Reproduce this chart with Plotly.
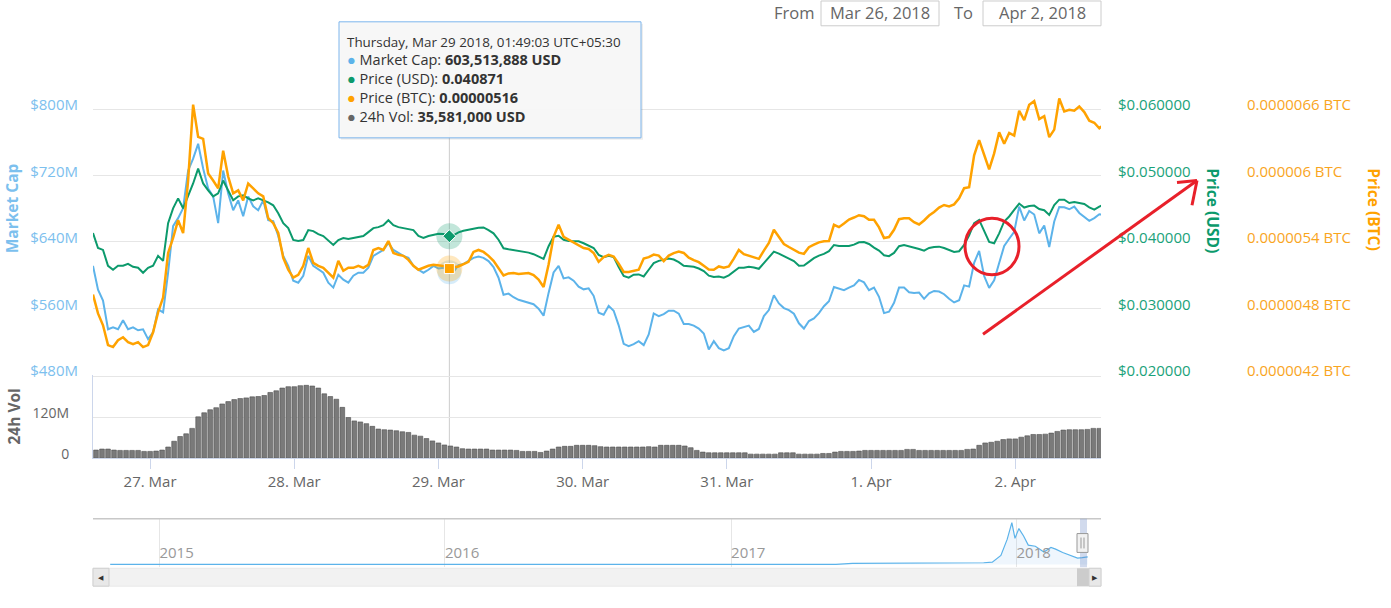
import plotly.graph_objects as go
import pandas as pd

# ---- data ----
# main series sampled every 50 min starting at the left edge of the chart
series_start = "2018-03-26 14:30"
series_step = "50min"

market_cap_musd = [
    611.3, 582.7, 569.6, 534.9, 537.3, 534.9, 545.7, 534.9, 537.3, 533.7,
    534.9, 523.0, 531.3, 558.8, 555.2, 603.0, 659.1, 668.7, 680.6, 726.0,
    740.3, 758.2, 728.4, 704.5, 694.9, 662.7, 726.0, 698.5, 678.2, 690.1,
    671.0, 694.9, 683.0, 678.2, 690.1, 666.3, 665.1, 647.2, 623.3, 611.3,
    593.4, 591.0, 599.4, 623.3, 611.3, 606.6, 603.0, 591.0, 585.1, 600.6,
    594.6, 591.0, 599.4, 603.0, 603.0, 609.0, 623.3, 626.9, 630.4, 638.8,
    630.4, 626.9, 623.3, 620.9, 611.3, 606.6, 603.0, 606.6, 611.3,
    608.1, 609.0, 605.0, 604.0, 612.2, 613.4, 617.3, 620.9, 622.4, 620.9,
    617.0, 609.8, 597.0, 576.4, 577.9, 573.5, 570.4, 568.4, 566.8, 565.1,
    559.6, 551.3, 578.7, 603.3, 611.3, 596.2, 597.4, 593.4, 586.3, 583.0,
    584.2, 575.2, 554.9, 552.5, 563.2, 557.3, 539.7, 517.4, 514.6, 517.0,
    520.6, 515.8, 528.6, 554.0, 550.8, 553.2, 557.3, 557.3, 553.7, 541.3,
    541.3, 539.3, 535.8, 529.8, 510.7, 520.6, 512.2, 509.5, 512.2, 526.6,
    535.8, 537.7, 539.3, 531.7, 535.3,
    550.8, 558.0, 575.9, 566.0, 560.4, 558.0, 553.7, 542.1, 535.8, 544.8,
    548.1, 554.4, 562.7, 568.7, 585.9, 584.2, 581.9, 585.1, 587.8, 594.3,
    591.4, 581.9, 585.1, 574.0, 554.4, 556.1, 566.8, 585.1, 585.1, 579.5,
    578.7, 579.1, 571.6, 578.3, 581.1, 580.3, 577.1, 571.6, 567.2, 569.9,
    587.8, 586.3, 614.9, 629.3, 599.0, 584.7, 593.8, 614.6, 635.2, 643.9,
    652.3, 682.6, 665.9, 677.4, 673.1, 650.4, 659.9, 634.0, 664.7, 682.1,
    681.8, 679.4, 682.6, 675.0, 670.7, 665.4, 668.7, 673.4, 672.6,
]

price_usd = [
    0.04134, 0.03910, 0.03881, 0.03642, 0.03582, 0.03642, 0.03642, 0.03672, 0.03627, 0.03612,
    0.03537, 0.03612, 0.03642, 0.03791, 0.03716, 0.04284, 0.04507, 0.04657, 0.04507, 0.04687,
    0.04881, 0.05104, 0.04881, 0.04776, 0.04687, 0.04731, 0.04925, 0.04776, 0.04627, 0.04687,
    0.04701, 0.04657, 0.04627, 0.04657, 0.04627, 0.04597, 0.04552, 0.04433, 0.04284, 0.04209,
    0.04030, 0.04015, 0.04030, 0.04179, 0.04164, 0.04119, 0.04090, 0.04015, 0.03955, 0.04030,
    0.04060, 0.04045, 0.04060, 0.04075, 0.04090, 0.04149, 0.04209, 0.04224, 0.04254, 0.04328,
    0.04254, 0.04224, 0.04209, 0.04194, 0.04179, 0.04090, 0.04060, 0.04090, 0.04104,
    0.04124, 0.04119, 0.04079, 0.04100, 0.04145, 0.04169, 0.04179, 0.04198, 0.04213, 0.04219,
    0.04179, 0.04130, 0.04034, 0.03906, 0.03891, 0.03881, 0.03866, 0.03855, 0.03840, 0.03816,
    0.03776, 0.03746, 0.03936, 0.04079, 0.04094, 0.04034, 0.04015, 0.04010, 0.04010, 0.03981,
    0.03951, 0.03910, 0.03806, 0.03772, 0.03791, 0.03772, 0.03622, 0.03488, 0.03463, 0.03507,
    0.03512, 0.03482, 0.03582, 0.03682, 0.03716, 0.03736, 0.03751, 0.03736, 0.03697, 0.03642,
    0.03637, 0.03627, 0.03601, 0.03563, 0.03493, 0.03473, 0.03482, 0.03463, 0.03497, 0.03557,
    0.03612, 0.03612, 0.03627, 0.03616, 0.03597,
    0.03682, 0.03761, 0.03855, 0.03825, 0.03791, 0.03751, 0.03712, 0.03642, 0.03646, 0.03701,
    0.03757, 0.03795, 0.03821, 0.03861, 0.03955, 0.03940, 0.03936, 0.03940, 0.03960, 0.03995,
    0.04000, 0.03970, 0.03915, 0.03870, 0.03801, 0.03787, 0.03836, 0.03936, 0.03955, 0.03936,
    0.03921, 0.03895, 0.03870, 0.03910, 0.03925, 0.03930, 0.03910, 0.03876, 0.03851, 0.03861,
    0.03955, 0.04100, 0.04284, 0.04333, 0.04160, 0.04000, 0.03981, 0.04130, 0.04309, 0.04384,
    0.04482, 0.04578, 0.04518, 0.04542, 0.04548, 0.04497, 0.04478, 0.04407, 0.04557, 0.04637,
    0.04637, 0.04587, 0.04601, 0.04592, 0.04572, 0.04522, 0.04488, 0.04533, 0.04567,
]

# price in micro-BTC (1e-6 BTC)
price_ubtc = [
    4.925, 4.755, 4.648, 4.469, 4.451, 4.513, 4.540, 4.496, 4.478, 4.496,
    4.451, 4.469, 4.585, 4.764, 4.898, 5.301, 5.436, 5.597, 5.481, 5.955,
    6.640, 6.349, 6.331, 6.018, 5.955, 5.884, 6.224, 5.991, 5.839, 5.866,
    5.776, 5.928, 5.884, 5.839, 5.812, 5.615, 5.570, 5.481, 5.257, 5.149,
    5.078, 5.104, 5.185, 5.346, 5.212, 5.185, 5.167, 5.122, 5.078, 5.230,
    5.140, 5.167, 5.167, 5.185, 5.167, 5.194, 5.328, 5.346, 5.328, 5.409,
    5.301, 5.284, 5.275, 5.239, 5.185, 5.149, 5.167, 5.185, 5.194,
    5.188, 5.185, 5.173, 5.173, 5.179, 5.203, 5.221, 5.310, 5.328, 5.310,
    5.275, 5.230, 5.158, 5.098, 5.116, 5.120, 5.111, 5.113, 5.120, 5.102,
    5.060, 4.994, 5.197, 5.447, 5.555, 5.447, 5.421, 5.394, 5.370, 5.346,
    5.337, 5.301, 5.221, 5.263, 5.284, 5.268, 5.203, 5.129, 5.129, 5.138,
    5.149, 5.250, 5.263, 5.286, 5.277, 5.227, 5.277, 5.299, 5.313, 5.301,
    5.259, 5.236, 5.218, 5.185, 5.152, 5.149, 5.179, 5.167, 5.179, 5.250,
    5.328, 5.290, 5.275, 5.263, 5.248,
    5.322, 5.391, 5.510, 5.447, 5.382, 5.355, 5.331, 5.304, 5.293, 5.353,
    5.376, 5.397, 5.406, 5.409, 5.555, 5.534, 5.567, 5.603, 5.621, 5.642,
    5.633, 5.600, 5.600, 5.532, 5.436, 5.445, 5.510, 5.606, 5.615, 5.615,
    5.579, 5.558, 5.594, 5.639, 5.671, 5.711, 5.734, 5.722, 5.740, 5.794,
    5.886, 5.895, 6.182, 6.320, 6.188, 6.056, 6.200, 6.391, 6.287, 6.385,
    6.361, 6.585, 6.501, 6.639, 6.672, 6.510, 6.537, 6.347, 6.415, 6.696,
    6.579, 6.594, 6.585, 6.624, 6.573, 6.495, 6.477, 6.427, 6.466,
]

# 24h volume, hourly bars, in millions USD
volume_start = "2018-03-26 15:00"
volume_musd = [
    24, 27, 27, 24, 23, 23, 23, 23, 20, 20,
    21, 24, 33, 50, 64, 72, 88, 122, 134, 143,
    149, 160, 167, 173, 176, 178, 181, 182, 185, 194,
    199, 207, 211, 211, 214, 215, 213, 207, 190, 182,
    174, 150, 120, 110, 107, 102, 94, 86, 84, 83,
    81, 78, 76, 68, 65, 58, 51, 45, 39, 36,
    33, 28, 27, 27, 27, 27, 24, 24, 24, 24,
    23, 20, 20, 20, 17, 21, 27, 33, 35, 35,
    38, 38, 38, 37, 34, 33, 33, 33, 33, 33,
    33, 33, 34, 33, 38, 38, 38, 38, 36, 31,
    23, 18, 16, 16, 16, 16, 16, 16, 16, 12,
    12, 12, 12, 12, 16, 16, 16, 12, 12, 12,
    12, 14, 14, 18, 20, 20, 20, 21, 23, 23,
    23, 23, 23, 23, 23, 26, 26, 23, 23, 23,
    23, 23, 23, 23, 23, 26, 27, 38, 45, 47,
    50, 55, 57, 57, 62, 66, 70, 70, 71, 74,
    79, 83, 84, 84, 84, 85, 88, 88,
]

# navigator: all-time market cap, billions USD
nav_dates = [
    "2014-10-30", "2015-06-01", "2016-01-01", "2016-07-01", "2017-01-01",
    "2017-05-15", "2017-06-05", "2017-09-01", "2017-10-20", "2017-11-20",
    "2017-12-01", "2017-12-12", "2017-12-20", "2017-12-26", "2017-12-30",
    "2018-01-04", "2018-01-10", "2018-01-16", "2018-01-25", "2018-02-05",
    "2018-02-14", "2018-02-20", "2018-03-01", "2018-03-10", "2018-03-20",
    "2018-03-26", "2018-04-02",
]
nav_mcap_busd = [
    0.008, 0.006, 0.005, 0.006, 0.008,
    0.012, 0.09, 0.10, 0.12, 0.15,
    0.20, 0.80, 2.20, 3.67, 2.30,
    3.15, 2.50, 1.70, 1.60, 1.10,
    1.50, 1.35, 1.05, 0.82, 0.56,
    0.60, 0.67,
]

# hovered point shown in the tooltip
tip_time = "2018-03-29 01:49:03"
tip_label = "Thursday, Mar 29 2018, 01:49:03 UTC+05:30"
tip_mcap = 603513888
tip_usd = 0.040871
tip_btc = 0.00000516
tip_vol = 35581000

mc_ticks = [480, 560, 640, 720, 800, 880]
mc_labels = ["$480M", "$560M", "$640M", "$720M", "$800M", ""]
usd_ticks = [0.02, 0.03, 0.04, 0.05, 0.06, 0.07]
usd_labels = ["$0.020000", "$0.030000", "$0.040000", "$0.050000", "$0.060000", ""]
btc_ticks = [4.2, 4.8, 5.4, 6.0, 6.6, 7.2]
btc_labels = ["0.0000042 BTC", "0.0000048 BTC", "0.0000054 BTC",
              "0.000006 BTC", "0.0000066 BTC", ""]
vol_ticks = [0, 120, 240]
vol_labels = ["0", "120M", ""]

C_MC = "#5cb3ea"
C_USD = "#0c9a6c"
C_BTC = "#ffa200"
C_VOL = "#7a7a7a"
C_GRID = "#e6e6e6"
FONT = "Open Sans"

W, H = 1391, 608


def px(x):
    return x / W


def py(y):
    return 1 - y / H


times = pd.date_range(series_start, periods=len(market_cap_musd), freq=series_step)
vol_times = pd.date_range(volume_start, periods=len(volume_musd), freq="h")

fig = go.Figure()

fig.add_trace(go.Bar(x=vol_times, y=volume_musd, yaxis="y4", width=3600000 * 0.78,
                     marker=dict(color=C_VOL, line=dict(color="#4f4f4f", width=0.6))))
fig.add_trace(go.Scatter(x=times, y=market_cap_musd, yaxis="y", mode="lines",
                         line=dict(color=C_MC, width=2)))
fig.add_trace(go.Scatter(x=times, y=price_usd, yaxis="y2", mode="lines",
                         line=dict(color=C_USD, width=2)))
fig.add_trace(go.Scatter(x=times, y=price_ubtc, yaxis="y3", mode="lines",
                         line=dict(color=C_BTC, width=2.5)))

# hover halos + markers
fig.add_trace(go.Scatter(x=[tip_time], y=[tip_mcap / 1e6], yaxis="y", mode="markers",
                         marker=dict(size=24, color=C_MC, opacity=0.25)))
fig.add_trace(go.Scatter(x=[tip_time], y=[tip_usd], yaxis="y2", mode="markers",
                         marker=dict(size=26, color=C_USD, opacity=0.25)))
fig.add_trace(go.Scatter(x=[tip_time], y=[tip_usd], yaxis="y2", mode="markers",
                         marker=dict(size=10, symbol="diamond", color=C_USD,
                                     line=dict(color="white", width=1))))
fig.add_trace(go.Scatter(x=[tip_time], y=[tip_btc * 1e6], yaxis="y3", mode="markers",
                         marker=dict(size=26, color=C_BTC, opacity=0.25)))
fig.add_trace(go.Scatter(x=[tip_time], y=[tip_btc * 1e6], yaxis="y3", mode="markers",
                         marker=dict(size=10, symbol="square", color=C_BTC,
                                     line=dict(color="white", width=1))))

# navigator
fig.add_trace(go.Scatter(x=nav_dates, y=nav_mcap_busd, xaxis="x2", yaxis="y5", mode="lines",
                         fill="tozeroy", fillcolor="rgba(124,181,236,0.12)",
                         line=dict(color=C_MC, width=1.2)))

tick_font = dict(family=FONT, size=15)

fig.update_layout(
    width=W, height=H,
    margin=dict(l=0, r=0, t=0, b=0),
    paper_bgcolor="white", plot_bgcolor="white",
    showlegend=False,
    font=dict(family=FONT, color="#333"),
    xaxis=dict(domain=[px(93), px(1101)], anchor="y4", type="date",
               range=["2018-03-26 14:30", "2018-04-02 14:17"],
               showgrid=False, zeroline=False, showline=True, linecolor="#ccd6eb",
               ticks="outside", ticklen=10, tickcolor="#ccd6eb",
               tick0="2018-03-27", dtick=86400000, tickformat="%-d. %b",
               tickfont=dict(tick_font, color="#666")),
    yaxis=dict(domain=[py(378), py(43)], anchor="x", range=[480, 880],
               tickvals=mc_ticks, ticktext=mc_labels, gridcolor=C_GRID,
               zeroline=False, ticklabelstandoff=14, ticklabelshift=-4,
               tickfont=dict(tick_font, color="#7cc0ee")),
    yaxis2=dict(overlaying="y", side="right", anchor="x", range=[0.02, 0.07],
                tickvals=usd_ticks, ticktext=usd_labels, showgrid=False, zeroline=False,
                ticklabelstandoff=16, ticklabelshift=-4,
                tickfont=dict(tick_font, color="#1aa27a")),
    yaxis3=dict(overlaying="y", side="right", anchor="free", position=px(1234),
                range=[4.2, 7.2], tickvals=btc_ticks, ticktext=btc_labels,
                showgrid=False, zeroline=False, ticklabelstandoff=12, ticklabelshift=-4,
                tickfont=dict(tick_font, color="#f9a51e")),
    yaxis4=dict(domain=[py(462), py(378)], anchor="x", range=[0, 245.85],
                tickvals=vol_ticks, ticktext=vol_labels, gridcolor=C_GRID,
                zeroline=False, showline=True, linecolor="#ccd6eb",
                ticklabelstandoff=20, ticklabelshift=-4,
                tickfont=dict(family=FONT, size=14, color="#666")),
    xaxis2=dict(domain=[px(93), px(1101)], anchor="y5", type="date",
                range=["2014-10-08", "2018-04-19"], tick0="2015-01-01", dtick="M12",
                tickformat="%Y", showgrid=True, gridcolor=C_GRID, zeroline=False,
                ticklabelposition="inside right", ticks="",
                tickfont=dict(tick_font, color="#999")),
    yaxis5=dict(domain=[py(572), py(523)], anchor="x2", range=[-0.25, 4.02],
                visible=False),
)

shapes = []
annotations = []


def note(x, y, text, size, color, xanchor="center", angle=0):
    annotations.append(dict(x=px(x), y=py(y), xref="paper", yref="paper", text=text,
                            xanchor=xanchor, yanchor="middle", textangle=angle, borderpad=0,
                            showarrow=False, font=dict(family=FONT, size=size, color=color)))


def box(x0, y0, x1, y1, fill, line_color=None, width=1):
    line = dict(color=line_color, width=width) if line_color else dict(width=0)
    shapes.append(dict(type="rect", xref="paper", yref="paper", x0=px(x0), x1=px(x1),
                       y0=py(y1), y1=py(y0), fillcolor=fill, line=line))


def seg(x0, y0, x1, y1, color, width=1):
    shapes.append(dict(type="line", xref="paper", yref="paper", x0=px(x0), x1=px(x1),
                       y0=py(y0), y1=py(y1), line=dict(color=color, width=width)))


# crosshair
shapes.append(dict(type="line", xref="x", yref="paper", x0=tip_time, x1=tip_time,
                   y0=py(462), y1=py(43), line=dict(color="#cccccc", width=1), layer="below"))

# navigator frame, selection and scrollbar
seg(93, 523, 1101, 523, "#c8c8c8", 1.5)
box(1080, 523, 1087, 572, "rgba(102,133,194,0.3)")
box(93, 573, 1101, 591, "#f2f2f2", "#e8e8e8")
box(93, 573, 109, 591, "#e8e8e8", "#d0d0d0")
box(1077, 573, 1089, 591, "#cccccc")
box(1089, 573, 1101, 591, "#e8e8e8", "#d0d0d0")
box(1077, 538, 1088, 557, "#f2f2f2", "#999999")
seg(1081, 542, 1081, 553, "#999999")
seg(1084, 542, 1084, 553, "#999999")
note(101, 582, "◀", 7, "#333")
note(1095, 582, "▶", 7, "#333")

# tooltip
box(341, 24, 643, 141, "rgba(0,0,0,0.07)")
box(339, 22, 641, 139, "rgba(248,248,248,0.95)", "#7cb5ec")
note(346, 42, tip_label, 13.4, "#333", xanchor="left")
tip_rows = [
    (C_MC, "Market Cap", f"{tip_mcap:,} USD", 60),
    (C_USD, "Price (USD)", f"{tip_usd:.6f}", 79),
    (C_BTC, "Price (BTC)", f"{tip_btc:.8f}", 98),
    ("#666666", "24h Vol", f"{tip_vol:,} USD", 117),
]
for color, name, value, ypix in tip_rows:
    note(346, ypix, f"<span style='color:{color}'>●</span> {name}: <b>{value}</b>",
         14.5, "#333", xanchor="left")

# From / To range inputs
box(821, 1, 939, 26, "white", "#cccccc")
box(983, 1, 1101, 26, "white", "#cccccc")
for text, xc in [("From", 794), ("Mar 26, 2018", 880), ("To", 963), ("Apr 2, 2018", 1042)]:
    note(xc, 13, text, 16.5, "#666")

# axis titles
note(12, 210, "<b>Market Cap</b>", 15.5, "#7cc0ee", angle=-90)
note(14, 420, "<b>24h Vol</b>", 15.5, "#666666", angle=-90)
note(1213, 212, "<b>Price (USD)</b>", 15.5, C_USD, angle=90)
note(1374, 211, "<b>Price (BTC)</b>", 15.5, C_BTC, angle=90)

# red hand-drawn marks
shapes.append(dict(type="circle", xref="paper", yref="paper", x0=px(965), x1=px(1019),
                   y0=py(277), y1=py(220), line=dict(color="#e8202a", width=3)))
seg(983, 337, 1197, 182, "#e8202a", 3)
seg(1197, 182, 1177, 184, "#e8202a", 3)
seg(1197, 182, 1192, 207, "#e8202a", 3)

fig.update_layout(shapes=shapes, annotations=annotations)

fig.write_html("out.html", config={"displayModeBar": False},
               post_script="document.body.style.margin='0';")
